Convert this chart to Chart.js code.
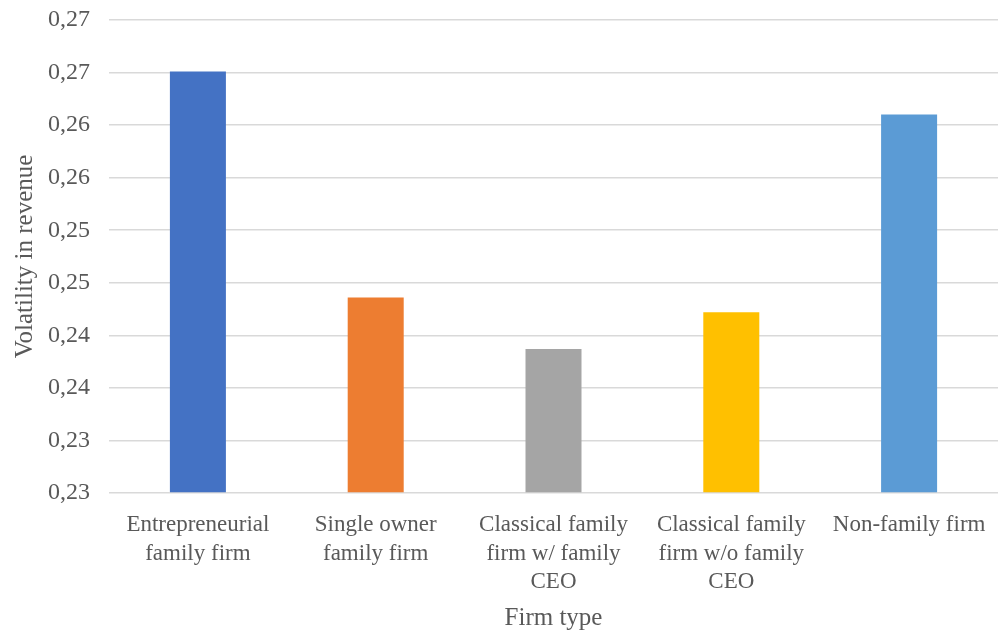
<!DOCTYPE html>
<html>
<head>
<meta charset="utf-8">
<script src="https://cdn.jsdelivr.net/npm/chart.js@4/dist/chart.umd.min.js"></script>
<style>
  html, body { margin: 0; padding: 0; background: #fff; }
  #wrap { width: 1000px; height: 635px; }
</style>
</head>
<body>
<div id="wrap"><canvas id="chart"></canvas></div>
<script>
const categories = [
  ["Entrepreneurial", "family firm"],
  ["Single owner", "family firm"],
  ["Classical family", "firm w/ family", "CEO"],
  ["Classical family", "firm w/o family", "CEO"],
  "Non-family firm"
];
const volatility = [0.2651, 0.2436, 0.2387, 0.2422, 0.2610];
const barColors = ["#4472C4", "#ED7D31", "#A5A5A5", "#FFC000", "#5B9BD5"];
const yMin = 0.225, yMax = 0.27, yStep = 0.005;

const textGrey = "#595959";
const serif = "'Liberation Serif', 'Times New Roman', serif";

function fmtTick(v) {
  // excel-like 2 decimals with comma
  return (Math.round(v * 100 + 1e-6) / 100).toFixed(2).replace(".", ",");
}

const ctx = document.getElementById("chart").getContext("2d");
new Chart(ctx, {
  type: "bar",
  data: {
    labels: categories,
    datasets: [{
      data: volatility,
      backgroundColor: barColors,
      barPercentage: 0.315,
      categoryPercentage: 1.0,
      base: yMin
    }]
  },
  options: {
    responsive: true,
    maintainAspectRatio: false,
    animation: false,
    layout: { padding: { top: 20, right: 2, left: 0, bottom: 2 } },
    plugins: {
      legend: { display: false },
      tooltip: { enabled: false }
    },
    scales: {
      x: {
        grid: { display: false },
        border: { display: false },
        afterFit: (s) => { s.height = 140; },
        ticks: {
          color: textGrey,
          font: { family: serif, size: 23, lineHeight: 1.26 },
          maxRotation: 0,
          autoSkip: false,
          padding: 9
        },
        title: {
          display: true,
          text: "Firm type",
          color: textGrey,
          font: { family: serif, size: 25 },
          padding: { top: 0, bottom: 0 }
        }
      },
      y: {
        min: yMin,
        max: yMax,
        grid: { color: "#d9d9d9", lineWidth: 1.5, drawTicks: false },
        border: { display: false },
        afterFit: (s) => { s.width = 109; s.paddingTop = 0; s.paddingBottom = 0; },
        ticks: {
          stepSize: yStep,
          color: textGrey,
          font: { family: serif, size: 24 },
          padding: 19,
          callback: (v) => fmtTick(v)
        },
        title: {
          display: true,
          text: "Volatility in revenue",
          color: textGrey,
          font: { family: serif, size: 25 },
          padding: { top: 10, bottom: 0 }
        }
      }
    }
  }
});
</script>
</body>
</html>
